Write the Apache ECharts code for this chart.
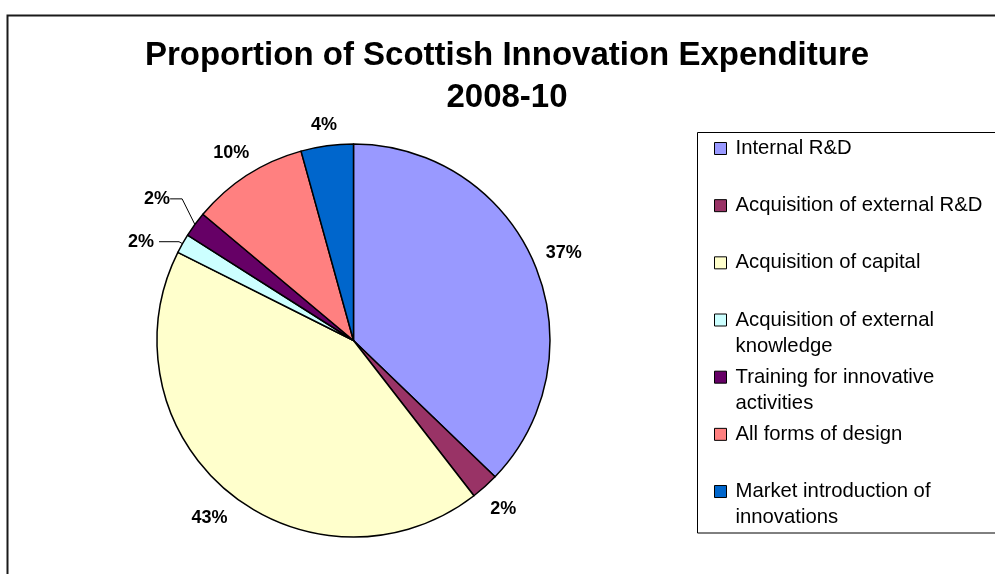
<!DOCTYPE html>
<html>
<head>
<meta charset="utf-8">
<script src="https://cdn.jsdelivr.net/npm/echarts@6/dist/echarts.min.js"></script>
<style>
  html, body { margin: 0; padding: 0; background: #fff; }
  #chart { width: 995px; height: 574px; }
</style>
</head>
<body>
<div id="chart"></div>
<script>
// ---- data ----
const titleText = 'Proportion of Scottish Innovation Expenditure\n2008-10';
const categories = [
  'Internal R&D',
  'Acquisition of external R&D',
  'Acquisition of capital',
  'Acquisition of external knowledge',
  'Training for innovative activities',
  'All forms of design',
  'Market introduction of innovations'
];
const legendLabels = [
  'Internal R&D',
  'Acquisition of external R&D',
  'Acquisition of capital',
  'Acquisition of external\nknowledge',
  'Training for innovative\nactivities',
  'All forms of design',
  'Market introduction of\ninnovations'
];
const values = [37.2, 2.3, 42.9, 1.6, 2.1, 9.6, 4.3];

// ---- styles ----
const colors = ['#9999FF', '#993366', '#FFFFCC', '#CCFFFF', '#660066', '#FF8080', '#0066CC'];
// gap between slice edge and label box; null = library default outside layout
const labelGap = [12, 12, 12, null, 31, 12, 12];
const showLeader = [false, false, false, true, true, false, false];
const FONT = 'Liberation Sans, Arial, sans-serif';
const LEGEND_LH = 26;
const LEGEND_FIRST = 148;
const LEGEND_STEP = 57.17;

const chart = echarts.init(document.getElementById('chart'), null, { renderer: 'canvas' });

const legends = categories.map(function (name, i) {
  const extra = legendLabels[i].split('\n').length - 1;
  // leading blank lines keep the first text line level with the marker
  const shown = '\n'.repeat(extra) + legendLabels[i];
  return {
    data: [name],
    orient: 'vertical',
    left: 714,
    top: LEGEND_FIRST + i * LEGEND_STEP - 12.5 - extra * LEGEND_LH,
    padding: 0,
    itemGap: 0,
    itemWidth: 12,
    itemHeight: 12,
    icon: 'rect',
    selectedMode: false,
    itemStyle: { borderColor: '#000', borderWidth: 1 },
    formatter: function () { return shown; },
    textStyle: {
      fontFamily: FONT,
      fontSize: 20.3,
      color: '#000',
      lineHeight: LEGEND_LH,
      padding: [0, 0, 0, 4]
    }
  };
});

const option = {
  animation: false,
  backgroundColor: '#fff',
  title: {
    text: titleText,
    left: 507,
    top: 35,
    padding: 0,
    textAlign: 'center',
    textStyle: {
      fontFamily: FONT,
      fontSize: 33,
      fontWeight: 'bold',
      color: '#000',
      lineHeight: 42
    }
  },
  graphic: [
    {
      type: 'rect',
      z: -10,
      shape: { x: 7.5, y: 15.5, width: 1100, height: 700 },
      style: { fill: 'none', stroke: '#1a1a1a', lineWidth: 2 }
    },
    {
      type: 'rect',
      z: -10,
      shape: { x: 697.5, y: 132.5, width: 400, height: 400.5 },
      style: { fill: 'none', stroke: '#000', lineWidth: 1 }
    }
  ],
  legend: legends,
  series: [
    {
      type: 'pie',
      center: [353.5, 340.5],
      radius: 196.5,
      startAngle: 90,
      clockwise: true,
      percentPrecision: 0,
      avoidLabelOverlap: false,
      emphasis: { disabled: true },
      itemStyle: { borderColor: '#000', borderWidth: 1.5 },
      label: {
        show: true,
        position: 'outside',
        formatter: '{d}%',
        fontFamily: FONT,
        fontSize: 18,
        fontWeight: 'bold',
        color: '#000'
      },
      labelLine: {
        show: true,
        length: 10,
        length2: 12,
        lineStyle: { color: '#000', width: 1 }
      },
      labelLayout: function (p) {
        const gap = labelGap[p.dataIndex];
        if (gap == null || !p.labelLinePoints) return {};
        const a = p.labelLinePoints[0], b = p.labelLinePoints[1];
        let dx = b[0] - a[0], dy = b[1] - a[1];
        const len = Math.hypot(dx, dy) || 1;
        dx /= len; dy /= len;
        const w = p.labelRect.width, h = p.labelRect.height;
        const k = gap + Math.abs(dx) * w / 2 + Math.abs(dy) * h / 2;
        return { x: a[0] + dx * k, y: a[1] + dy * k + 2, align: 'center', verticalAlign: 'middle' };
      },
      data: categories.map(function (name, i) {
        const item = {
          name: name,
          value: values[i],
          itemStyle: { color: colors[i] },
          labelLine: {
            show: true,
            lineStyle: { opacity: showLeader[i] ? 1 : 0 }
          }
        };
        if (i === 3) { item.labelLine.length = 4; item.labelLine.length2 = 20; }
        return item;
      })
    }
  ]
};

chart.setOption(option);
</script>
</body>
</html>
